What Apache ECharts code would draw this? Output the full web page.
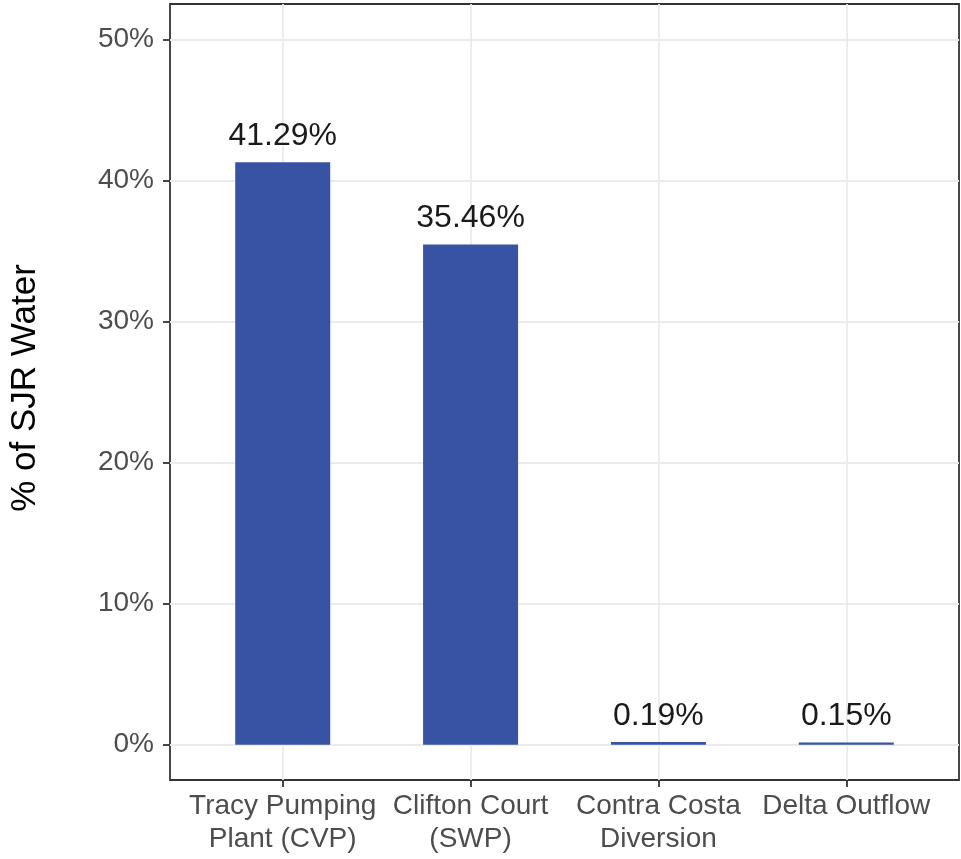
<!DOCTYPE html>
<html>
<head>
<meta charset="utf-8">
<script src="https://cdn.jsdelivr.net/npm/echarts@6/dist/echarts.min.js"></script>
<style>html,body{margin:0;padding:0;background:#fff}#c{width:961px;height:859px}</style>
</head>
<body>
<div id="c"></div>
<script>
const categories = ["Tracy Pumping\nPlant (CVP)", "Clifton Court\n(SWP)", "Contra Costa\nDiversion", "Delta Outflow"];
const values = [41.29, 35.46, 0.19, 0.15];
const yTicks = [0, 10, 20, 30, 40, 50];

const chart = echarts.init(document.getElementById('c'), null, {renderer: 'canvas'});
const FONT = '"Liberation Sans", Arial, Helvetica, sans-serif';
const idx = categories.map((_, i) => i);
chart.setOption({
  animation: false,
  backgroundColor: '#ffffff',
  grid: {left: 169, right: 2, top: 4, bottom: 79, show: true, borderColor: '#333333', borderWidth: 1.8, containLabel: false},
  xAxis: {
    type: 'value', min: -0.6, max: categories.length - 0.4,
    axisLine: {show: false, onZero: false},
    axisTick: {show: true, length: 7, lineStyle: {color: '#333333', width: 1.8}, customValues: idx},
    axisLabel: {customValues: idx, color: '#4d4d4d', fontSize: 28, fontFamily: FONT, lineHeight: 33, margin: 10,
      formatter: v => categories[Math.round(v)]},
    splitLine: {show: true, lineStyle: {color: '#ebebeb', width: 1.8}}
  },
  yAxis: {
    type: 'value', min: -2.5, max: 52.5,
    name: '% of SJR Water', nameLocation: 'middle', nameGap: 127, nameRotate: 90,
    nameTextStyle: {color: '#000000', fontSize: 35, fontFamily: FONT, padding: [0, 0, 0, 8]},
    axisLine: {show: false, onZero: false},
    axisTick: {show: true, length: 7, lineStyle: {color: '#333333', width: 1.8}, customValues: yTicks},
    axisLabel: {customValues: yTicks, color: '#4d4d4d', fontSize: 28, fontFamily: FONT, margin: 16, formatter: v => v + '%'},
    splitLine: {show: true, lineStyle: {color: '#ebebeb', width: 1.8}}
  },
  series: [{
    type: 'bar',
    data: values.map((v, i) => [i, v]),
    barWidth: 95,
    itemStyle: {color: '#3953a4'},
    label: {show: true, position: 'top', distance: 10, color: '#1a1a1a', fontSize: 32, fontFamily: FONT,
      formatter: p => p.value[1].toFixed(2) + '%'}
  }]
});
</script>
</body>
</html>
